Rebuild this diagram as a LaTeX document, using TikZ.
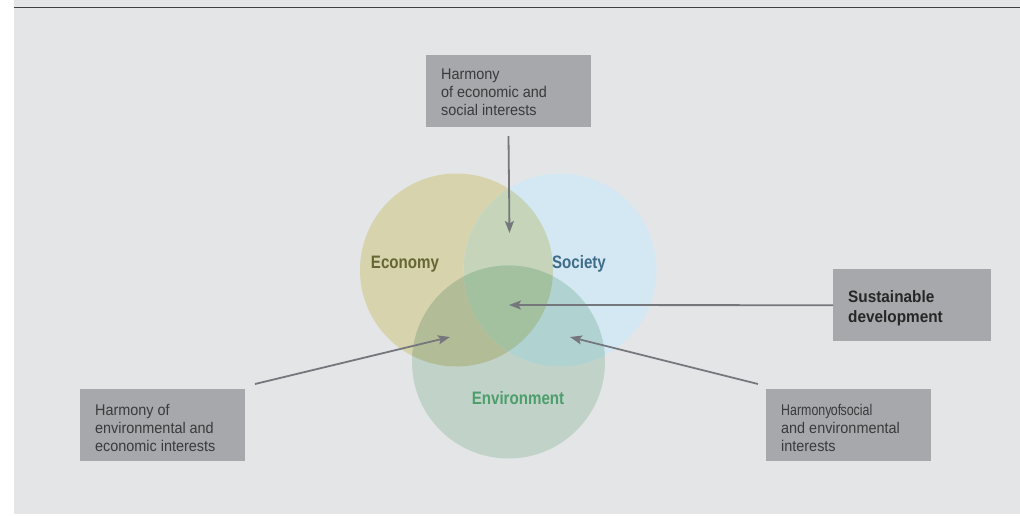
\documentclass[tikz,border=0pt]{standalone}
\usepackage{fontspec}
\setmainfont{Liberation Sans}
\newfontfamily\lbl[FakeStretch=0.84]{Liberation Sans}
\newfontfamily\boxf[FakeStretch=0.93]{Liberation Sans}
\newfontfamily\tightf[FakeStretch=0.80]{Liberation Sans}
\usetikzlibrary{arrows.meta}
\definecolor{bg}{HTML}{E4E5E7}
\definecolor{boxc}{HTML}{A7A8AB}
\definecolor{arr}{HTML}{76777D}
\definecolor{ecoC}{HTML}{D6D3AD}
\definecolor{socC}{HTML}{D4E8F3}
\definecolor{envC}{HTML}{C1D3C9}
\definecolor{esC}{HTML}{C6D5B9}
\definecolor{evC}{HTML}{B2BD98}
\definecolor{svC}{HTML}{B0D3D2}
\definecolor{allC}{HTML}{A3C19E}
\definecolor{ecoT}{HTML}{666632}
\definecolor{socT}{HTML}{3E6D88}
\definecolor{envT}{HTML}{4E9E6C}
\definecolor{boxT}{HTML}{3A3A3C}
\tikzset{
  infobox/.style={fill=boxc, draw=none, inner sep=0pt, minimum width=#1, minimum height=72pt},
  boxtext/.style={anchor=north west, align=left, inner sep=0pt, text=boxT, font=\boxf\fontsize{15.5}{17.8}\selectfont},
  conn/.style={draw=arr, line width=1.8pt, -{Stealth[length=12pt,width=9pt,inset=2.5pt]}},
  circlbl/.style={font=\lbl\bfseries\fontsize{18}{20}\selectfont}
}
\begin{document}
\begin{tikzpicture}[x=1pt,y=-1pt]
\useasboundingbox (0,0) rectangle (1020,515);
\fill[bg] (14,0) rectangle (1020,514);
\draw[draw=black!75, line width=1.6pt] (14,7.5) -- (1020,7.5);
% circles
\coordinate (ce) at (456.5,270);
\coordinate (cs) at (560,270);
\coordinate (cv) at (508.5,362);
\def\rr{96.5}
\fill[ecoC] (ce) circle (\rr);
\fill[socC] (cs) circle (\rr);
\fill[envC] (cv) circle (\rr);
\begin{scope}\clip (ce) circle (\rr); \fill[esC] (cs) circle (\rr); \end{scope}
\begin{scope}\clip (ce) circle (\rr); \fill[evC] (cv) circle (\rr); \end{scope}
\begin{scope}\clip (cs) circle (\rr); \fill[svC] (cv) circle (\rr); \end{scope}
\begin{scope}\clip (ce) circle (\rr); \clip (cs) circle (\rr); \fill[allC] (cv) circle (\rr); \end{scope}
\node[circlbl, text=ecoT] (eco) at (405,264) {Economy};
\node[circlbl, text=socT] (soc) at (579,264) {Society};
\node[circlbl, text=envT] (env) at (518,398) {Environment};
% boxes
\node[infobox=165pt, anchor=north west] (btop) at (426,55) {};
\node[boxtext] at (441,69) {Harmony\\of economic and\\social interests};
\node[infobox=158pt, anchor=north west] (bsus) at (833,269) {};
\node[anchor=north west, align=left, inner sep=0pt, text=black!85, font=\boxf\bfseries\fontsize{16.5}{20}\selectfont] at (848,290.5) {Sustainable\\development};
\node[infobox=165pt, anchor=north west] (bleft) at (80,389) {};
\node[boxtext] at (95,404) {Harmony of\\environmental and\\economic interests};
\node[infobox=165pt, anchor=north west] (bright) at (766,389) {};
\node[boxtext] at (781,404) {{\tightf\fontsize{15.5}{17.8}\selectfont Harmony\hspace{-0.6pt}of\hspace{-0.6pt}social}\\and environmental\\interests};
% targets
\coordinate (tTop) at (509.5,233);
\coordinate (tSus) at (509,305);
\coordinate (tLeft) at (450,337);
\coordinate (tRight) at (570,337);
\coordinate (sTop) at (508.5,136);
\coordinate (sLeft) at (255,384);
\coordinate (sRight) at (758,384);
\draw[conn] (sTop) -- (tTop);
\draw[conn] (bsus.west) -- (tSus);
\draw[conn] (sLeft) -- (tLeft);
\draw[conn] (sRight) -- (tRight);
\end{tikzpicture}
\end{document}
